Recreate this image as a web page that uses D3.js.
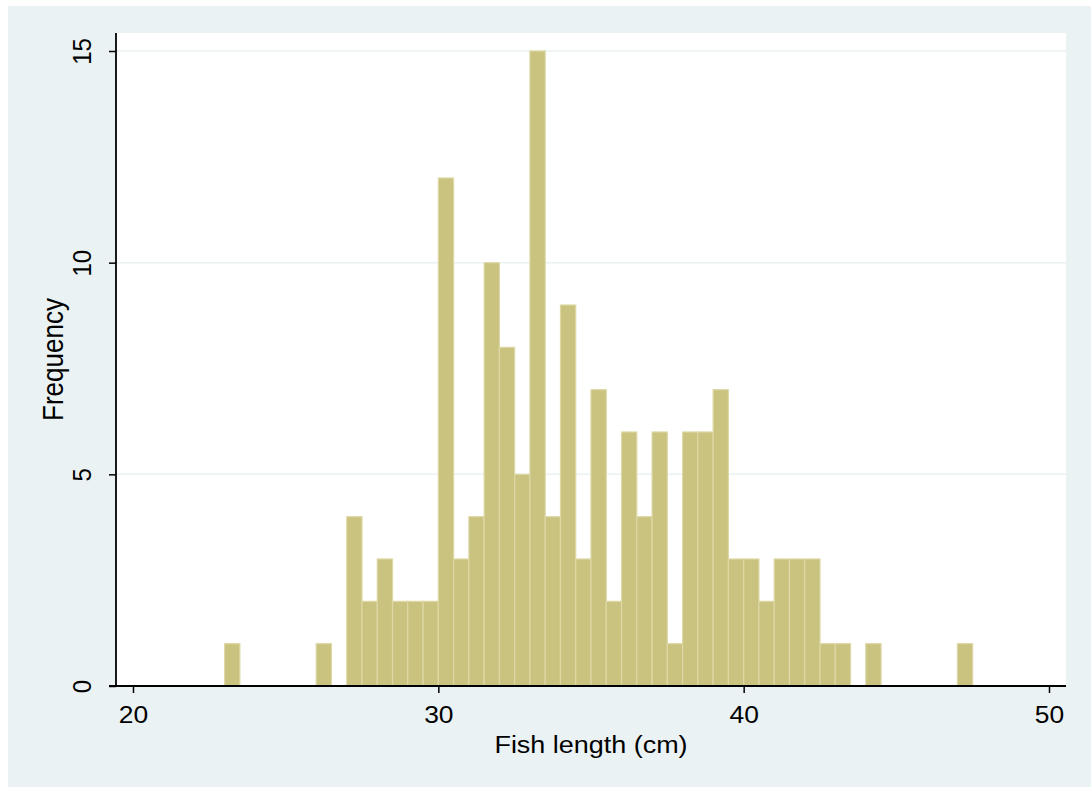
<!DOCTYPE html>
<html>
<head>
<meta charset="utf-8">
<script src="https://cdn.jsdelivr.net/npm/d3@7"></script>
<style>
  html, body { margin: 0; padding: 0; background: #ffffff; }
  svg { display: block; }
  text { font-family: "Liberation Sans", Arial, sans-serif; fill: #000; }
</style>
</head>
<body>
<svg id="chart" width="1091" height="787"></svg>
<script>
// ---- data ----
const binStarts = [23, 26, 27, 27.5, 28, 28.5, 29, 29.5, 30, 30.5, 31, 31.5, 32, 32.5, 33, 33.5, 34, 34.5,
                   35, 35.5, 36, 36.5, 37, 37.5, 38, 38.5, 39, 39.5, 40, 40.5, 41, 41.5, 42, 42.5, 43, 44, 47];
const counts    = [1, 1, 4, 2, 3, 2, 2, 2, 12, 3, 4, 10, 8, 5, 15, 4, 9, 3,
                   7, 2, 6, 4, 6, 1, 6, 6, 7, 3, 3, 2, 3, 3, 3, 1, 1, 1, 1];
const binWidth = 0.5;
const xTicks = [20, 30, 40, 50];
const yTicks = [0, 5, 10, 15];
const xTitle = "Fish length (cm)";
const yTitle = "Frequency";

// ---- layout ----
const svg = d3.select("#chart");
const W = 1091, H = 787;
const plot = { left: 116, right: 1066, top: 33, bottom: 686 };
const stretch = 1.1;

svg.append("rect").attr("x", 8).attr("y", 6).attr("width", W - 8).attr("height", H - 6)
  .attr("fill", "#eaf2f3");
svg.append("rect").attr("x", plot.left).attr("y", plot.top)
  .attr("width", plot.right - plot.left).attr("height", plot.bottom - plot.top)
  .attr("fill", "#ffffff");

const x = d3.scaleLinear().domain([20, 50]).range([133, 1049]);
const y = d3.scaleLinear().domain([0, 15]).range([686, 51]);

// gridlines
svg.append("g").selectAll("line").data(yTicks.filter(d => d > 0)).join("line")
  .attr("x1", plot.left).attr("x2", plot.right)
  .attr("y1", d => y(d)).attr("y2", d => y(d))
  .attr("stroke", "#eaf2f3").attr("stroke-width", 1.5);

// bars
const bars = binStarts.map((s, i) => ({ s, c: counts[i] }));
svg.append("g").selectAll("rect").data(bars).join("rect")
  .attr("x", d => x(d.s))
  .attr("width", d => x(d.s + binWidth) - x(d.s))
  .attr("y", d => y(d.c))
  .attr("height", d => y(0) - y(d.c))
  .attr("fill", "#cac27f")
  .attr("stroke", "#ddd8a6")
  .attr("stroke-width", 1.2);

// axes
const xAxis = d3.axisBottom(x).tickValues(xTicks).tickSize(7).tickFormat(d3.format("d"));
const gx = svg.append("g").attr("transform", `translate(0,${plot.bottom})`).call(xAxis);
gx.select(".domain").remove();
gx.selectAll(".tick line").attr("stroke", "#000").attr("stroke-width", 1.5);
gx.selectAll(".tick text").remove();
gx.selectAll(".tick").append("text")
  .attr("transform", `translate(0,37) scale(${stretch},1)`)
  .attr("text-anchor", "middle")
  .style("font-size", "24px")
  .text(d => d);

svg.append("line").attr("x1", plot.left - 7).attr("x2", plot.right)
  .attr("y1", plot.bottom).attr("y2", plot.bottom)
  .attr("stroke", "#000").attr("stroke-width", 1.8);

const yAxis = d3.axisLeft(y).tickValues(yTicks).tickSize(7).tickFormat(d3.format("d"));
const gy = svg.append("g").attr("transform", `translate(${plot.left},0)`).call(yAxis);
gy.select(".domain").remove();
gy.selectAll(".tick line").attr("stroke", "#000").attr("stroke-width", 1.5);
gy.selectAll(".tick text").remove();
gy.selectAll(".tick").append("text")
  .attr("transform", `translate(-25,0) scale(${stretch},1) rotate(-90)`)
  .attr("text-anchor", "middle")
  .style("font-size", "24px")
  .text(d => d);

svg.append("line").attr("x1", plot.left).attr("x2", plot.left)
  .attr("y1", plot.top).attr("y2", plot.bottom + 1)
  .attr("stroke", "#000").attr("stroke-width", 1.8);

// titles
svg.append("text")
  .attr("transform", `translate(${(plot.left + plot.right) / 2},753) scale(${stretch},1)`)
  .attr("text-anchor", "middle")
  .style("font-size", "24.5px")
  .text(xTitle);

svg.append("text")
  .attr("transform", `translate(63,${(plot.top + plot.bottom) / 2}) scale(${stretch},1) rotate(-90)`)
  .attr("text-anchor", "middle")
  .style("font-size", "26px")
  .text(yTitle);
</script>
</body>
</html>
